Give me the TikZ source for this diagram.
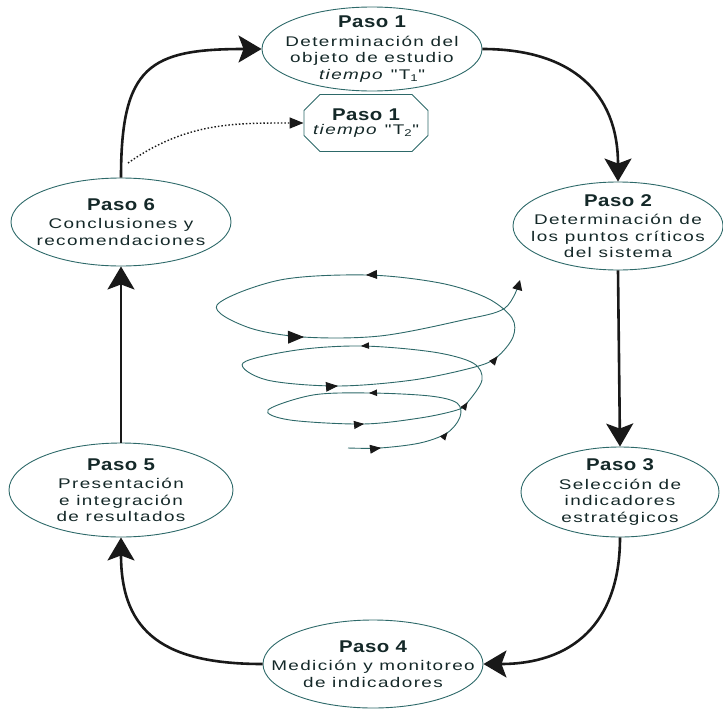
\documentclass[tikz,border=0pt]{standalone}
\usepackage{fontspec}
\usetikzlibrary{shapes.geometric,shapes.misc,arrows.meta,calc}

\newfontfamily\bodyfont{Liberation Sans}[FakeStretch=1.35,LetterSpace=10]
\newfontfamily\headfont{Liberation Sans}[FakeStretch=1.2,LetterSpace=3]
\newcommand{\paso}[1]{{\headfont\bfseries\fontsize{17}{19}\selectfont Paso #1}}

\definecolor{linecol}{RGB}{45,105,105}
\definecolor{txtcol}{RGB}{20,40,40}
\definecolor{flowcol}{RGB}{25,25,25}

\tikzset{
    paso/.style={ellipse, draw=linecol, line width=0.9pt},
    pasotxt/.style={align=center, text=txtcol, inner sep=0pt,
        font=\bodyfont\fontsize{14}{16.5}\selectfont},
    octo/.style={chamfered rectangle, chamfered rectangle xsep=8pt,
        chamfered rectangle ysep=8pt, draw=linecol, line width=0.9pt,
        minimum width=105, minimum height=57, inner xsep=1pt, align=center,
        text=txtcol, font=\bodyfont\fontsize{14}{16.5}\selectfont},
    flow/.style={draw=flowcol, line width=2.6pt,
        -{Stealth[length=23pt,width=27pt,inset=5pt]}},
    dotflow/.style={draw=flowcol, line width=1.4pt, dash pattern=on 1.5pt off 2pt,
        -{Triangle[length=14pt,width=11pt]}},
    spiral/.style={draw=linecol, line width=0.9pt},
}

\begin{document}
\begin{tikzpicture}[x=1pt,y=-1pt]
    \useasboundingbox (0,0) rectangle (723,712);

    %steps:
    \foreach \x/\y/\w/\h/\n/\l in {
        372/49/220/84/p1/{\paso{1}\\[2pt]Determinación del\\objeto de estudio\\\textit{tiempo} "T\textsubscript{1}"},
        618/226/210/88/p2/{\paso{2}\\[2pt]Determinación de\\los puntos críticos\\del sistema},
        620/492/198/90/p3/{\paso{3}\\[2pt]Selección de\\indicadores\\estratégicos},
        373/664/220/88/p4/{\paso{4}\\[2pt]Medición y monitoreo\\de indicadores},
        121/490/224/94/p5/{\paso{5}\\[2pt]Presentación\\e integración\\de resultados},
        121/222/220/88/p6/{\paso{6}\\[2pt]Conclusiones y\\recomendaciones}}{
        \node[paso, minimum width=\w, minimum height=\h] (\n) at (\x,\y) {};
        \node[pasotxt] (\n-t) at (\n) {\l};
    }
    \node[octo] (t2) at (366,123) {\paso{1}\\[-3pt]\textit{tiempo} "T\textsubscript{2}"};

    %cycle:
    \draw[flow] (p6.north) to[out=90,in=180,looseness=1.5] (p1.west);
    \draw[flow] (p1.east) to[out=0,in=90,looseness=1.2] (p2.north);
    \draw[flow] (p2.south) -- (p3.north);
    \draw[flow] (p3.south) to[out=-90,in=0,looseness=1.2] (p4.east);
    \draw[flow] (p4.west) to[out=180,in=-90,looseness=1.3] (p5.south);
    \draw[flow] (p5.north) -- (p6.south);

    \coordinate (d0) at (128,163);
    \draw[dotflow] (d0) to[out=35,in=180] (t2.west);

    %spiral:
    \draw[spiral, -{Triangle[length=10pt,width=10pt,color=flowcol]}] plot[smooth, tension=0.55] coordinates {
        (348,448) (380,448) (420,443) (447,433) (460,417) (457,403) (430,396) (370,393)
        (313,395) (268,410) (290,420) (363,424) (420,418) (457,410) (467,403) (482,380)
        (473,363) (433,352) (362,346) (297,350) (243,363) (267,380) (337,386) (413,380)
        (475,367) (497,357) (513,337) (512,318) (487,298) (440,283) (367,275) (280,280)
        (217,305) (247,327) (303,337) (380,336) (463,320) (505,308) (520,280)};
    \foreach \x/\y/\u/\v/\s in {380/448/420/443/11, 447/433/460/417/8, 370/393/313/395/8,
        363/424/420/418/10, 467/403/482/380/8, 362/346/297/350/8, 337/386/413/380/12,
        497/357/513/337/9, 367/275/280/280/11, 303/337/380/336/16}{
        \draw[spiral, -{Triangle[length=\s pt,width=0.8*\s pt]}, draw=flowcol]
            (\x,\y) -- ($(\x,\y)!1pt!(\u,\v)$);
    }
\end{tikzpicture}
\end{document}
